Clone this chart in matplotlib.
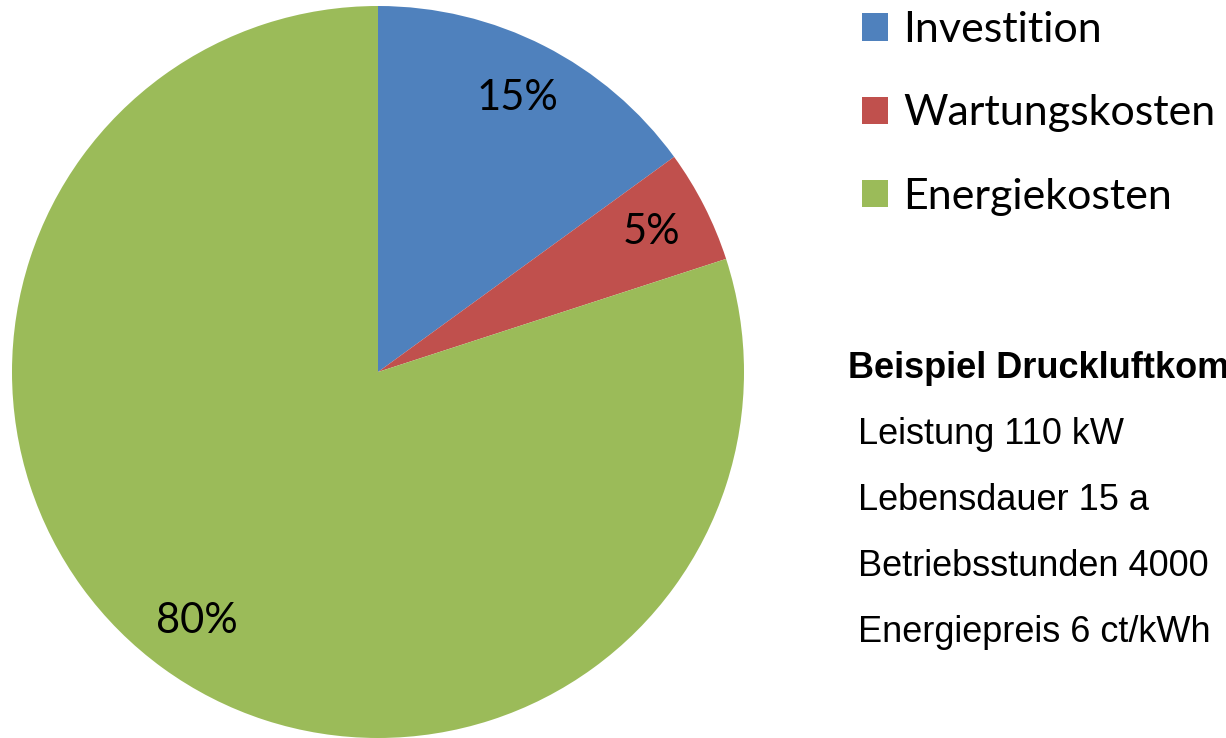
import matplotlib.pyplot as plt
from matplotlib.patches import Patch

# data
categories = ['Investition', 'Wartungskosten', 'Energiekosten']
shares = [15, 5, 80]
colors = ['#4F81BD', '#C0504D', '#9BBB59']

info_title = 'Beispiel Druckluftkompressor'
info_lines = ['Leistung 110 kW', 'Lebensdauer 15 a',
              'Betriebsstunden 4000', 'Energiepreis 6 ct/kWh']

W, H = 1226, 738
fig = plt.figure(figsize=(W / 100, H / 100), dpi=100)

# pie: center (378, 372) px, radius 366 px
cx, cy, r = 378, 372, 366
ax = fig.add_axes([(cx - r) / W, (H - cy - r) / H, 2 * r / W, 2 * r / H])
wedges, texts, autotexts = ax.pie(
    shares, colors=colors, startangle=90, counterclock=False,
    autopct='%1.0f%%', pctdistance=0.84, radius=1,
    textprops={'fontsize': 30, 'family': 'Lato', 'color': 'black'})
ax.set_xlim(-1, 1)
ax.set_ylim(-1, 1)
ax.set_aspect('auto')
ax.axis('off')

# legend
handles = [Patch(facecolor=c, edgecolor='none') for c in colors]
fig.legend(handles, categories, loc='upper left',
           bbox_to_anchor=(845 / W, 1 - (-6) / H), frameon=False,
           prop={'family': 'Lato', 'size': 31},
           handlelength=0.6, handleheight=0.6, handletextpad=0.36,
           labelspacing=1.05, borderaxespad=0)

# info text
fig.text(848 / W, 1 - 368 / H, info_title, fontsize=26, fontweight='bold',
         family='Liberation Sans', va='center', ha='left')
for i, line in enumerate(info_lines):
    fig.text(858 / W, 1 - (434 + 66 * i) / H, line, fontsize=26,
             family='Liberation Sans', va='center', ha='left')

fig.savefig('out.png', dpi=100)
